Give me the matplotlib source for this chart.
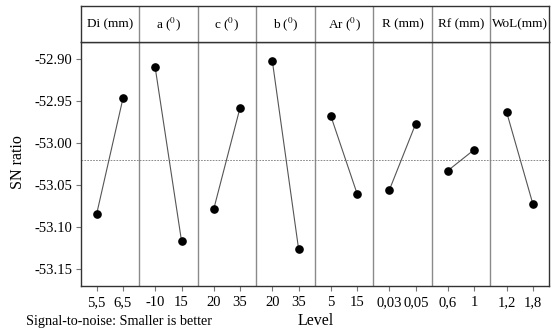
import matplotlib
matplotlib.use("Agg")
import matplotlib.pyplot as plt

# ---- data ----
factors = ["Di (mm)", r"a ($^{0}$)", r"c ($^{0}$)", r"b ($^{0}$)", r"Ar ($^{0}$)",
           "R (mm)", "Rf (mm)", "WoL(mm)"]
level_labels = [["5,5", "6,5"], ["-10", "15"], ["20", "35"], ["20", "35"],
                ["5", "15"], ["0,03", "0,05"], ["0,6", "1"], ["1,2", "1,8"]]
sn_level1 = [-53.085, -52.910, -53.079, -52.902, -52.968, -53.056, -53.033, -52.963]
sn_level2 = [-52.947, -53.117, -52.958, -53.127, -53.061, -52.977, -53.008, -53.073]
grand_mean = -53.021
yticks = [-52.90, -52.95, -53.00, -53.05, -53.10, -53.15]
ytick_labels = ["-52.90", "-52.95", "-53.00", "-53.05", "-53.10", "-53.15"]

plt.rcParams["font.family"] = ["Liberation Serif", "DejaVu Serif"]
plt.rcParams["mathtext.fontset"] = "stix"
plt.rcParams["axes.unicode_minus"] = False

W, H = 557, 331
L, R = 80.5, 549
TOP, HB, BOT = 6, 42, 286

fig = plt.figure(figsize=(W / 100, H / 100), dpi=100)
ax = fig.add_axes([L / W, 1 - BOT / H, (R - L) / W, (BOT - HB) / H])
hax = fig.add_axes([L / W, 1 - HB / H, (R - L) / W, (HB - TOP) / H])

n = len(factors)
off = 0.225
xt, xl = [], []
for i in range(n):
    x1, x2 = i + 0.5 - off, i + 0.5 + off
    ax.plot([x1, x2], [sn_level1[i], sn_level2[i]], color="#555555", lw=0.8, zorder=2)
    ax.plot([x1, x2], [sn_level1[i], sn_level2[i]], "o", color="black", ms=5.2, zorder=3)
    xt += [x1, x2]
    xl += level_labels[i]
    if i > 0:
        ax.axvline(i, color="#8a8a8a", lw=1.0, zorder=1)
        hax.axvline(i, color="#8a8a8a", lw=1.0)
    hax.text(i + 0.5, 0.5, factors[i], ha="center", va="center", fontsize=9.5)

ax.axhline(grand_mean, color="#777777", lw=0.6, ls=(0, (2, 1.5)), zorder=1)

ax.set_xlim(0, n)
ax.set_ylim(-53.1706, -52.8798)
ax.set_xticks(xt)
ax.set_xticklabels(xl, fontsize=10.5)
ax.set_yticks(yticks)
ax.set_yticklabels(ytick_labels, fontsize=10.5)
ax.tick_params(axis="both", direction="out", length=3.5, width=0.8, color="#777777", pad=2.5)
ax.tick_params(axis="x", pad=4)

for sp in ax.spines.values():
    sp.set_color("#333333")
    sp.set_linewidth(1.0)

hax.set_xlim(0, n)
hax.set_ylim(0, 1)
hax.set_xticks([])
hax.set_yticks([])
for sp in hax.spines.values():
    sp.set_color("#333333")
    sp.set_linewidth(1.0)

fig.text(18 / W, 1 - 162 / H, "SN ratio", rotation=90, ha="center", va="center", fontsize=11.5)
fig.text(316 / W, 1 - 321 / H, "Level", ha="center", va="center", fontsize=11.5)
fig.text(26 / W, 1 - 321 / H, "Signal-to-noise: Smaller is better", ha="left", va="center", fontsize=10.2)

fig.savefig("out.png", dpi=100)
